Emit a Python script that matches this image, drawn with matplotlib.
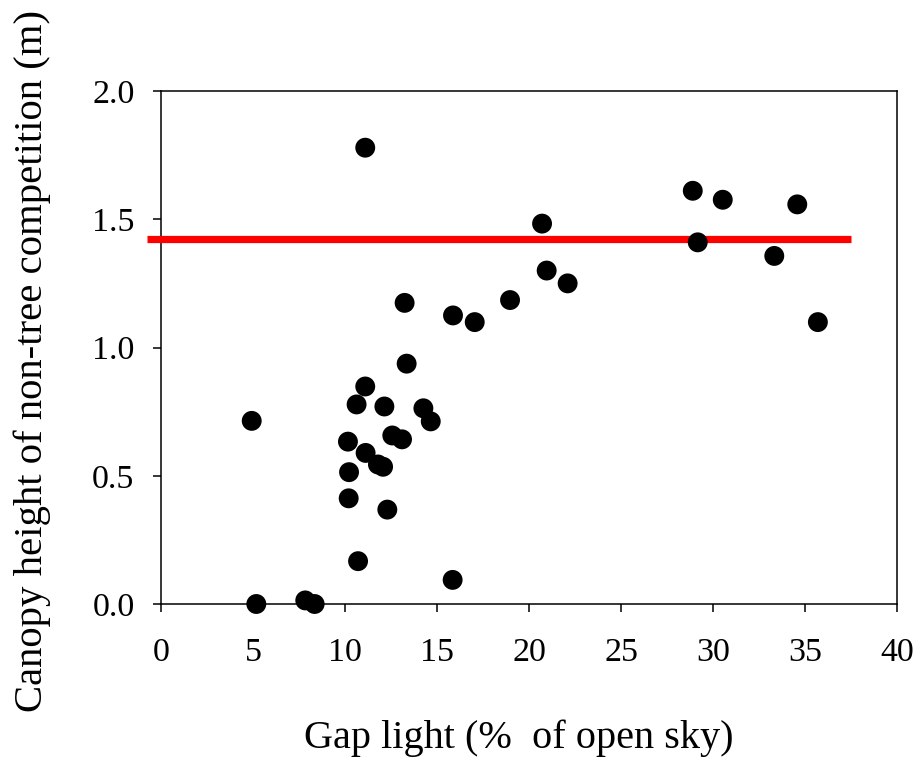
import matplotlib
matplotlib.use("Agg")
import matplotlib.pyplot as plt

# Gap light (% of open sky) and canopy height of non-tree competition (m)
gap_light = [11.1, 13.24, 13.35, 11.1, 10.63, 12.14, 14.26, 14.66, 4.93,
             12.57, 13.1, 10.16, 11.12, 11.79, 12.07, 10.22, 10.2, 12.3,
             10.71, 5.18, 7.84, 8.35, 15.85,
             28.9, 30.53, 34.58, 20.71, 29.17, 33.33, 20.96, 22.1, 18.97,
             15.87, 17.05, 35.7]
canopy_height = [1.779, 1.174, 0.937, 0.848, 0.778, 0.770, 0.763, 0.712, 0.714,
                 0.657, 0.642, 0.633, 0.589, 0.544, 0.535, 0.514, 0.412, 0.368,
                 0.167, 0.0, 0.014, 0.0, 0.094,
                 1.611, 1.576, 1.558, 1.483, 1.410, 1.357, 1.30, 1.250, 1.185,
                 1.125, 1.099, 1.099]

# Reference level drawn as a horizontal red line
ref_level = 1.423
ref_x = [-0.78, 37.5]

x_ticks = [0, 5, 10, 15, 20, 25, 30, 35, 40]
y_ticks = [0.0, 0.5, 1.0, 1.5, 2.0]

plt.rcParams["font.family"] = ["Liberation Serif", "DejaVu Serif"]

fig = plt.figure(figsize=(9.18, 7.66), dpi=100)
ax = fig.add_axes([161 / 918, 1 - 604 / 766, (897 - 161) / 918, (604 - 91) / 766])

ax.plot(ref_x, [ref_level, ref_level], color="#ff0000", lw=5.2,
        solid_capstyle="butt", zorder=3, clip_on=False)
ax.scatter(gap_light, canopy_height, s=205, color="black", edgecolors="none",
           zorder=4, clip_on=False)

ax.set_xlim(0, 40)
ax.set_ylim(0, 2.0)
ax.set_xticks(x_ticks)
ax.set_yticks(y_ticks)
ax.set_xticklabels([str(v) for v in x_ticks])
ax.set_yticklabels([f"{v:.1f}" for v in y_ticks])

for sp in ax.spines.values():
    sp.set_linewidth(1.1)
ax.tick_params(direction="out", length=6, width=1.1, labelsize=24.5, pad=13,
               colors="black")
ax.tick_params(axis="x", pad=18)

ax.set_xlabel("Gap light (%  of open sky)", fontsize=29)
ax.set_ylabel("Canopy height of non-tree competition (m)", fontsize=29.3)
ax.xaxis.set_label_coords(0.486, -0.225)
ax.yaxis.set_label_coords(-0.150, 0.4737)

fig.savefig("out.png", dpi=100)
